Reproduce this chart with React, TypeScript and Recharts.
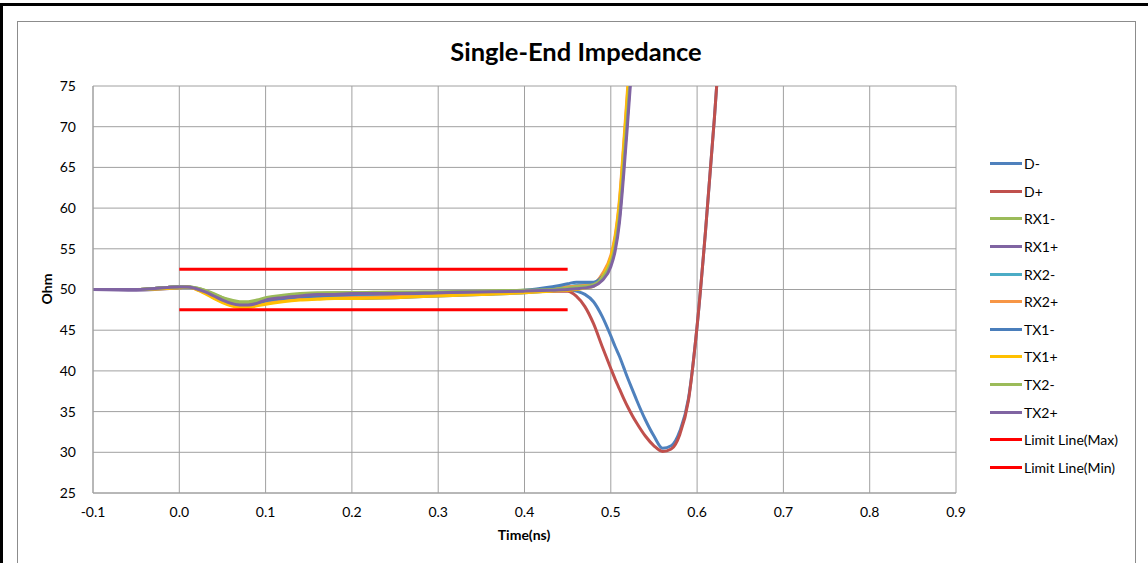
import React from 'react';
import { LineChart, Line, XAxis, YAxis, CartesianGrid } from 'recharts';

const times = [-0.1, -0.05, 0.0, 0.01, 0.02, 0.03, 0.04, 0.05, 0.06, 0.07, 0.08, 0.09, 0.1, 0.12, 0.14, 0.16, 0.18, 0.2, 0.25, 0.3, 0.35, 0.4, 0.43, 0.45, 0.46, 0.47, 0.48, 0.49, 0.5, 0.505, 0.51, 0.515, 0.52, 0.525, 0.53, 0.54, 0.55, 0.56, 0.57, 0.58, 0.59, 0.6, 0.61, 0.62, 0.63];

const dMinus = [50.0, 50.0, 50.3, 50.3, 50.1, 49.6, 49.0, 48.5, 48.1, 47.9, 47.9, 48.1, 48.4, 48.7, 48.8, 48.9, 48.9, 48.9, 49.0, 49.2, 49.4, 49.6, 49.8, 50.0, 49.8, 49.4, 48.5, 46.7, 44.3, 43.0, 41.8, 40.4, 39.0, 37.7, 36.4, 34.0, 32.0, 30.5, 30.8, 32.6, 36.6, 45.5, 57.5, 71.0, 86.0];
const dPlus = [50.0, 50.0, 50.3, 50.3, 50.1, 49.7, 49.2, 48.7, 48.3, 48.1, 48.1, 48.3, 48.6, 48.9, 49.1, 49.2, 49.3, 49.3, 49.4, 49.5, 49.6, 49.7, 49.8, 49.8, 49.2, 47.9, 45.8, 43.0, 40.3, 39.0, 37.8, 36.6, 35.5, 34.5, 33.6, 32.0, 30.8, 30.1, 30.4, 32.2, 36.4, 45.5, 57.5, 71.0, 86.0];
const rx1Minus = [50.0, 50.0, 50.3, 50.3, 50.2, 49.9, 49.5, 49.0, 48.7, 48.5, 48.5, 48.7, 49.0, 49.3, 49.5, 49.6, 49.6, 49.6, 49.7, 49.7, 49.8, 49.9, 50.1, 50.3, 50.4, 50.5, 50.7, 51.6, 53.6, 55.6, 59.4, 66.0, 73.0, 80.5, 88.0, null, null, null, null, null, null, null, null, null, null];
const rx1Plus = [50.0, 49.9, 50.2, 50.3, 50.1, 49.7, 49.2, 48.7, 48.3, 48.1, 48.1, 48.3, 48.6, 48.9, 49.1, 49.3, 49.4, 49.4, 49.5, 49.6, 49.7, 49.8, 49.9, 50.0, 50.2, 50.3, 50.5, 51.3, 53.2, 55.2, 58.8, 65.2, 72.2, 79.5, 87.0, null, null, null, null, null, null, null, null, null, null];
const rx2Minus = [50.0, 50.0, 50.3, 50.3, 50.1, 49.7, 49.3, 48.8, 48.4, 48.2, 48.2, 48.4, 48.7, 49.0, 49.2, 49.3, 49.4, 49.4, 49.5, 49.6, 49.7, 49.8, 50.0, 50.3, 50.5, 50.6, 50.7, 51.5, 53.4, 55.4, 59.2, 65.6, 72.6, 80.0, 87.5, null, null, null, null, null, null, null, null, null, null];
const rx2Plus = [50.0, 50.0, 50.3, 50.3, 50.0, 49.6, 49.0, 48.5, 48.1, 47.9, 47.9, 48.1, 48.4, 48.6, 48.8, 48.9, 49.0, 49.0, 49.1, 49.3, 49.5, 49.7, 50.0, 50.3, 50.4, 50.5, 50.7, 51.9, 54.2, 56.6, 61.0, 68.0, 75.5, 83.0, 91.0, null, null, null, null, null, null, null, null, null, null];
const tx1Minus = [50.0, 50.0, 50.3, 50.3, 50.1, 49.7, 49.2, 48.7, 48.3, 48.1, 48.1, 48.3, 48.6, 48.9, 49.1, 49.2, 49.3, 49.4, 49.5, 49.6, 49.7, 49.9, 50.3, 50.7, 50.9, 50.9, 50.9, 51.6, 53.5, 55.5, 59.3, 65.8, 72.8, 80.2, 87.5, null, null, null, null, null, null, null, null, null, null];
const tx1Plus = [50.0, 50.0, 50.2, 50.3, 50.0, 49.5, 48.9, 48.4, 48.0, 47.8, 47.8, 48.0, 48.2, 48.5, 48.7, 48.8, 48.9, 48.9, 49.0, 49.2, 49.4, 49.6, 49.8, 49.9, 50.0, 50.2, 50.4, 51.5, 53.9, 56.3, 60.6, 67.5, 75.0, 82.5, 90.5, null, null, null, null, null, null, null, null, null, null];
const tx2Minus = [50.0, 50.0, 50.3, 50.3, 50.2, 49.9, 49.4, 49.0, 48.6, 48.4, 48.4, 48.6, 48.9, 49.2, 49.4, 49.5, 49.6, 49.6, 49.6, 49.7, 49.8, 49.9, 50.0, 50.2, 50.3, 50.4, 50.6, 51.4, 53.3, 55.3, 59.0, 65.4, 72.4, 79.8, 87.0, null, null, null, null, null, null, null, null, null, null];
const tx2Plus = [50.0, 50.0, 50.3, 50.3, 50.1, 49.7, 49.2, 48.7, 48.3, 48.1, 48.1, 48.3, 48.7, 49.0, 49.2, 49.4, 49.4, 49.5, 49.5, 49.6, 49.7, 49.8, 49.9, 50.0, 50.1, 50.2, 50.4, 51.1, 52.8, 54.7, 58.2, 64.2, 71.2, 78.5, 86.0, null, null, null, null, null, null, null, null, null, null];

const limitTimes = [0.0, 0.45];
const limitMax = [52.5, 52.5];
const limitMin = [47.5, 47.5];

const xTicks = [-0.1, 0, 0.1, 0.2, 0.3, 0.4, 0.5, 0.6, 0.7, 0.8, 0.9];
const yTicks = [25, 30, 35, 40, 45, 50, 55, 60, 65, 70, 75];

const seriesNames = ['D-', 'D+', 'RX1-', 'RX1+', 'RX2-', 'RX2+', 'TX1-', 'TX1+', 'TX2-', 'TX2+'];
const seriesValues = [dMinus, dPlus, rx1Minus, rx1Plus, rx2Minus, rx2Plus, tx1Minus, tx1Plus, tx2Minus, tx2Plus];
const seriesColors = ['#4F81BD', '#C0504D', '#9BBB59', '#8064A2', '#4BACC6', '#F79646', '#4A7EBB', '#FFC000', '#9BBB59', '#8064A2'];

const limitNames = ['Limit Line(Max)', 'Limit Line(Min)'];
const limitColor = '#FF0000';

const rows = times.map((t, i) => {
  const r: Record<string, number | null> = { t };
  seriesNames.forEach((n, k) => {
    r[n] = seriesValues[k][i];
  });
  return r;
});

const maxRows = limitTimes.map((t, i) => ({ t, v: limitMax[i] }));
const minRows = limitTimes.map((t, i) => ({ t, v: limitMin[i] }));

const FONT = 'Lato, "Open Sans", sans-serif';
const GRID = '#A0A0A0';

const legendItems = [
  ...seriesNames.map((n, k) => ({ name: n, color: seriesColors[k] })),
  ...limitNames.map((n) => ({ name: n, color: limitColor })),
];

export default function App() {
  return (
    <div style={{ position: 'absolute', left: 0, top: 0, width: 1148, height: 563, background: '#fff', overflow: 'hidden', fontFamily: FONT }}>
      <div style={{ position: 'absolute', left: 0, top: 3, width: 1160, height: 600, borderTop: '3px solid #000', borderLeft: '3px solid #000', boxSizing: 'border-box' }} />
      <div style={{ position: 'absolute', left: 17, top: 21, width: 1119, height: 560, border: '1px solid #8c8c8c', boxSizing: 'border-box' }} />
      <div style={{ position: 'absolute', left: 0, width: 1152, top: 36, textAlign: 'center', fontSize: 25.5, fontWeight: 700, color: '#000', lineHeight: '30px' }}>
        Single-End Impedance
      </div>
      <div style={{ position: 'absolute', left: 0, top: 0 }}>
        <LineChart width={1148} height={563} data={rows} margin={{ top: 86, right: 192, bottom: 20, left: 33 }}>
          <CartesianGrid stroke={GRID} strokeWidth={1} horizontal vertical />
          <XAxis
            dataKey="t"
            type="number"
            domain={[-0.1, 0.9]}
            ticks={xTicks}
            allowDataOverflow
            interval={0}
            tickFormatter={(v: number) => v.toFixed(1)}
            tick={{ fill: '#000', fontSize: 14, fontFamily: FONT }}
            tickLine={false}
            tickSize={0}
            tickMargin={14}
            axisLine={{ stroke: GRID }}
            height={50}
            label={{
              content: () => (
                <text x={524} y={540} textAnchor="middle" fontFamily={FONT} fontSize={14} fontWeight={700} fill="#000">
                  Time(ns)
                </text>
              ),
            }}
          />
          <YAxis
            type="number"
            domain={[25, 75]}
            ticks={yTicks}
            allowDataOverflow
            interval={0}
            tick={{ fill: '#000', fontSize: 14, fontFamily: FONT }}
            tickLine={false}
            tickSize={0}
            tickMargin={17}
            axisLine={{ stroke: GRID }}
            width={60}
            label={{
              content: () => (
                <text x={52} y={289} transform="rotate(-90 52 289)" textAnchor="middle" fontFamily={FONT} fontSize={14} fontWeight={700} fill="#000">
                  Ohm
                </text>
              ),
            }}
          />
          {seriesNames.map((n, k) => (
            <Line
              key={n}
              dataKey={n}
              name={n}
              type="monotone"
              stroke={seriesColors[k]}
              strokeWidth={3}
              dot={false}
              activeDot={false}
              connectNulls={false}
              isAnimationActive={false}
            />
          ))}
          <Line data={maxRows} dataKey="v" name={limitNames[0]} type="linear" stroke={limitColor} strokeWidth={3} dot={false} activeDot={false} isAnimationActive={false} />
          <Line data={minRows} dataKey="v" name={limitNames[1]} type="linear" stroke={limitColor} strokeWidth={3} dot={false} activeDot={false} isAnimationActive={false} />
        </LineChart>
      </div>
      <div style={{ position: 'absolute', left: 990, top: 150 }}>
        {legendItems.map((it) => (
          <div key={it.name} style={{ display: 'flex', alignItems: 'center', height: 27.6 }}>
            <div style={{ width: 32, height: 3, background: it.color, marginRight: 2 }} />
            <span style={{ fontSize: 14, color: '#000', whiteSpace: 'nowrap' }}>{it.name}</span>
          </div>
        ))}
      </div>
    </div>
  );
}
